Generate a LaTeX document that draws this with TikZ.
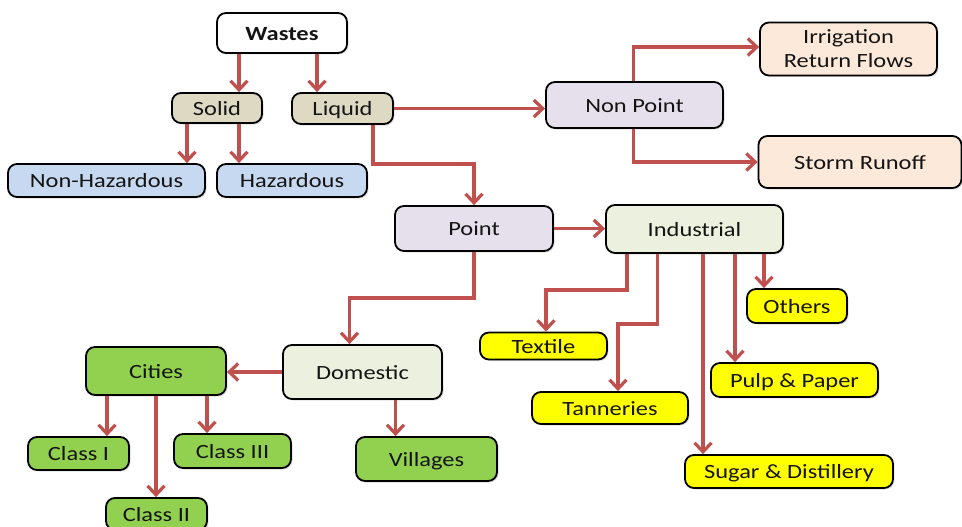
\documentclass[tikz,border=0pt]{standalone}
\usepackage{fontspec}
\setmainfont{Carlito}[FakeStretch=1.21]
\usetikzlibrary{arrows.meta,shadows,calc}
\definecolor{arrred}{HTML}{C0504D}
\definecolor{tan}{HTML}{DDD9C3}
\definecolor{lblue}{HTML}{C6D9F1}
\definecolor{lav}{HTML}{E5E0EC}
\definecolor{peach}{HTML}{FDE9D9}
\definecolor{lgreen}{HTML}{EBF1DE}
\definecolor{green}{HTML}{92D050}
\definecolor{yel}{HTML}{FFFF00}
\definecolor{txt}{HTML}{141414}
\begin{document}
\begin{tikzpicture}[x=1pt,y=-1pt,
  box/.style={draw=black,line width=1.8pt,rounded corners=9pt,inner sep=0pt,
    text=txt,font=\fontsize{20.2}{24}\selectfont,align=center,
    drop shadow={shadow xshift=1.5pt,shadow yshift=-1.5pt,opacity=0.25}},
  one/.style={box,text height=14.6pt,text depth=0pt},
  arr/.style={draw=arrred,line width=3.2pt,-{Straight Barb[length=9pt,width=17pt]}}]
\useasboundingbox (0,0) rectangle (962,527);
\fill[white] (0,0) rectangle (962,527);
% nodes
\node[one,fill=white,minimum width=130pt,minimum height=40pt] (wastes) at (282,33) {\textbf{Wastes}};
\node[one,fill=tan,minimum width=90pt,minimum height=30pt] (solid) at (217,108) {Solid};
\node[one,fill=tan,minimum width=101pt,minimum height=31pt] (liquid) at (342.5,108.5) {Liquid};
\node[one,fill=lblue,minimum width=197pt,minimum height=33pt] (nonhaz) at (106.5,180.5) {Non-Hazardous};
\node[one,fill=lblue,minimum width=150pt,minimum height=33pt] (haz) at (292,180.5) {Hazardous};
\node[one,fill=lav,minimum width=177pt,minimum height=46pt] (nonpoint) at (634.5,105) {Non Point};
\node[box,fill=peach,minimum width=177pt,minimum height=53pt] (irrig) at (848.5,49) {Irrigation\\Return Flows};
\node[one,fill=peach,minimum width=203pt,minimum height=52pt] (storm) at (860,162) {Storm Runoff};
\node[one,fill=lav,minimum width=158pt,minimum height=45pt] (point) at (474,228.5) {Point};
\node[one,fill=lgreen,minimum width=177pt,minimum height=48pt] (industrial) at (694.5,229) {Industrial};
\node[one,fill=yel,minimum width=127pt,minimum height=27pt] (textile) at (543.5,346) {Textile};
\node[one,fill=yel,minimum width=156pt,minimum height=32pt] (tanneries) at (610,408) {Tanneries};
\node[one,fill=yel,minimum width=208pt,minimum height=33pt] (sugar) at (789,471.5) {Sugar \& Distillery};
\node[one,fill=yel,minimum width=167pt,minimum height=34pt] (pulp) at (794.5,380) {Pulp \& Paper};
\node[one,fill=yel,minimum width=100pt,minimum height=34pt] (others) at (797,306) {Others};
\node[one,fill=lgreen,minimum width=159pt,minimum height=54pt] (domestic) at (362.5,372) {Domestic};
\node[one,fill=green,minimum width=140pt,minimum height=48pt] (cities) at (156,371) {Cities};
\node[one,fill=green,minimum width=101pt,minimum height=33pt] (class1) at (78.5,453.5) {Class I};
\node[one,fill=green,minimum width=117pt,minimum height=34pt] (class3) at (232.5,451) {Class III};
\node[one,fill=green,minimum width=101pt,minimum height=32pt] (class2) at (156.5,514) {Class II};
\node[one,fill=green,minimum width=141pt,minimum height=44pt] (villages) at (426.5,459) {Villages};
% connectors
\draw[arr] ([xshift=-43pt]wastes.south) -- ([xshift=-43pt]wastes.south |- solid.north);
\draw[arr] ([xshift=35pt]wastes.south) -- ([xshift=35pt]wastes.south |- liquid.north);
\draw[arr] ([xshift=-30pt]solid.south) -- ([xshift=-30pt]solid.south |- nonhaz.north);
\draw[arr] ([xshift=22pt]solid.south) -- ([xshift=22pt]solid.south |- haz.north);
\draw[arr] (liquid.east) -- (liquid.east -| nonpoint.west);
\draw[arr] ([xshift=30.5pt]liquid.south) -- ++(0,39) -| (point.north);
\draw[arr] ([xshift=-1pt]nonpoint.north) |- ([yshift=2pt]irrig.west);
\draw[arr] ([xshift=-1pt]nonpoint.south) |- (storm.west);
\draw[arr] (point.east) -- (point.east -| industrial.west);
\draw[arr] (point.south) -- ++(0,46) -| ([xshift=-13pt]domestic.north);
\draw[arr] ([xshift=-67.5pt]industrial.south) -- ++(0,36) -| ([xshift=2.5pt]textile.north);
\draw[arr] ([xshift=-37pt]industrial.south) -- ++(0,70) -| ([xshift=8pt]tanneries.north);
\draw[arr] ([xshift=8.5pt]industrial.south) -- ([xshift=8.5pt]industrial.south |- sugar.north);
\draw[arr] ([xshift=40.5pt]industrial.south) -- ([xshift=40.5pt]industrial.south |- pulp.north);
\draw[arr] ([xshift=69.5pt]industrial.south) -- ([xshift=69.5pt]industrial.south |- others.north);
\draw[arr] (domestic.west) -- (domestic.west -| cities.east);
\draw[arr] ([xshift=33pt]domestic.south) -- ([xshift=33pt]domestic.south |- villages.north);
\draw[arr] ([xshift=-49pt]cities.south) -- ([xshift=-49pt]cities.south |- class1.north);
\draw[arr] ([xshift=51pt]cities.south) -- ([xshift=51pt]cities.south |- class3.north);
\draw[arr] (cities.south) -- (cities.south |- class2.north);
\end{tikzpicture}
\end{document}
